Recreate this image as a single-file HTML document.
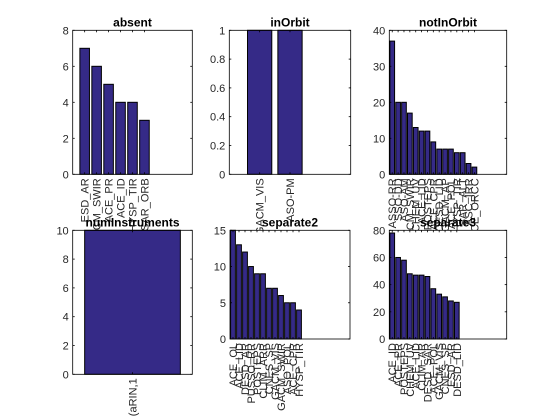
<!DOCTYPE html>
<html><head><meta charset="utf-8"><style>
html,body{margin:0;padding:0;background:#fff;}
svg{display:block;font-family:"Liberation Sans",Arial,sans-serif;}
</style></head><body>
<svg id="fig" width="560" height="420" xmlns="http://www.w3.org/2000/svg"></svg>
<script>
const absentCats = ["ESD_AR","CM_SWIR","ACE_PR","ACE_ID","HYSP_TIR","SAR_ORB"];
const absentVals = [7,6,5,4,4,3];
const inOrbitCats = ["GACM_VIS","ASO-PM"];
const inOrbitVals = [1,1];
const notInOrbitCats = ["ASSO-RR","SSO-DD","ASO-AM","GACM_SWIR","CHEM_UV","ACE_LID","POSTEPS","ACE_CPR","DESD_LID","GACM_AP","ACE_POL","HYSP_TIR","SAR_ALT","ASC_IRR","ACE_ORCC"];
const notInOrbitVals = [37,20,20,17,13,12,12,9,7,7,7,6,6,3,2];
const numInstrCats = ["(aRIN,1"];
const numInstrVals = [10];
const separate2Cats = ["ACE_OL","ACE_LID","DESD_AR","PUSSO_RR","POSTEPS","CLIM_ARR","CNES_SP","GACM_VIS","GACM_SWIR","ASO_POL","ACE_CPR","HYSP_TIR"];
const separate2Vals = [15,13,12,10,9,9,7,7,6,5,5,4];
const separate3Cats = ["ACE_ID","ACE_PR","POSTEPS","CHEM_UV","ACE_LID","CLIM_AR","DESD_SAR","ACE_POL","GACM_VIS","CNES_SP","ESD_AR","DESD_LID"];
const separate3Vals = [78,60,58,48,47,47,46,37,33,31,28,27];

const absentTicks = [0,2,4,6,8];
const inOrbitTicks = [0,0.2,0.4,0.6,0.8,1];
const notInOrbitTicks = [0,10,20,30,40];
const numInstrTicks = [0,2,4,6,8,10];
const separate2Ticks = [0,5,10,15];
const separate3Ticks = [0,20,40,60,80];

const NS="http://www.w3.org/2000/svg";
const svg=document.getElementById('fig');
function mk(tag,attrs,parent){const e=document.createElementNS(NS,tag);for(const k in attrs)e.setAttribute(k,attrs[k]);(parent||svg).appendChild(e);return e;}

function panel(name,title,cats,vals,ticks,box,xlim){
  const g=mk('g',{});
  
  
  const [L,T,R,B]=box;
  const ymax=ticks[ticks.length-1];
  const xs=v=>L+(v-xlim[0])/(xlim[1]-xlim[0])*(R-L);
  const ys=v=>B-v/ymax*(B-T);
  const bw=0.8*(R-L)/(xlim[1]-xlim[0]);
  const bg=mk('rect',{x:L,y:T,width:R-L,height:B-T,fill:'#fff'},g);
  
  
  vals.forEach((v,i)=>{
    const r=mk('rect',{x:xs(i+1)-bw/2,y:ys(v),width:bw,height:ys(0)-ys(v),fill:'#352a87',stroke:'#000','stroke-width':1},g);
    
    
  });
  const fr=mk('rect',{x:L,y:T,width:R-L,height:B-T,fill:'none',stroke:'#000','stroke-width':0.8},g);
  
  
  ticks.forEach(t=>{
    const y=ys(t);
    mk('line',{x1:L,x2:L+2,y1:y,y2:y,stroke:'#000','stroke-width':0.8},g);
    mk('line',{x1:R,x2:R-2,y1:y,y2:y,stroke:'#000','stroke-width':0.8},g);
    const tx=mk('text',{x:L-4,y:y+4,'text-anchor':'end','font-size':11,fill:'#262626'},g);
    tx.textContent=String(t);
    
    
  });
  cats.forEach((c,i)=>{
    const x=xs(i+1);
    mk('line',{x1:x,x2:x,y1:B,y2:B-2,stroke:'#000','stroke-width':0.8},g);
    mk('line',{x1:x,x2:x,y1:T,y2:T+2,stroke:'#000','stroke-width':0.8},g);
    const tx=mk('text',{x:0,y:0,'text-anchor':'end','font-size':11,fill:'#262626',transform:`translate(${x+4},${B+4}) rotate(-90)`},g);
    tx.textContent=c;
    
    
  });
  const tt=mk('text',{x:(L+R)/2,y:T-4,'text-anchor':'middle','font-size':12,'font-weight':'bold',fill:'#000'},g);
  tt.textContent=title;
  
  
}
panel('absent','absent',absentCats,absentVals,absentTicks,[72.7,30.3,192.3,174.3],[0,10]);
panel('in-orbit','inOrbit',inOrbitCats,inOrbitVals,inOrbitTicks,[229.3,30.3,350.7,174.3],[0,4]);
panel('not-in-orbit','notInOrbit',notInOrbitCats,notInOrbitVals,notInOrbitTicks,[389.3,30.3,506.7,174.3],[0.5,20.5]);
panel('num-instruments','numInstruments',numInstrCats,numInstrVals,numInstrTicks,[72.7,230.3,192.3,374.3],[0.5,1.5]);
panel('separate2','separate2',separate2Cats,separate2Vals,separate2Ticks,[230,230.3,350,339],[0.5,20.5]);
panel('separate3','separate3',separate3Cats,separate3Vals,separate3Ticks,[389.3,230.3,506.7,339],[0.5,20.5]);
</script>
</body></html>
